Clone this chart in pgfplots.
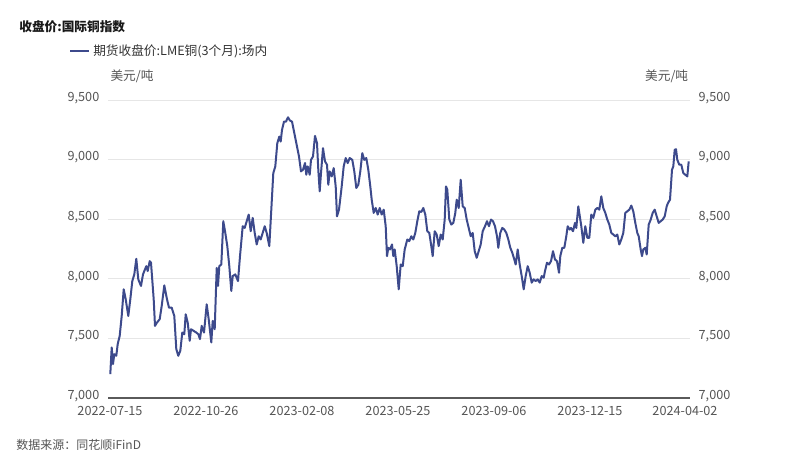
\documentclass[border=0pt]{standalone}
\usepackage{fontspec}
\setmainfont{Noto Sans CJK SC}
\usepackage{pgfplots}
\pgfplotsset{compat=1.18}
\definecolor{lineblue}{HTML}{3D4A8C}
\definecolor{gridgray}{HTML}{E6E6E6}
\definecolor{axisgray}{HTML}{5A5A5A}
\definecolor{txtgray}{HTML}{555555}
\begin{document}
\begin{tikzpicture}
\path[use as bounding box,fill=white] (0,0) rectangle (600pt,354pt);
\pgfplotsset{
  baseopts/.style={
    at={(81pt,55.5pt)}, anchor=south west,
    width=436.5pt, height=223.5pt, scale only axis,
    xmin=108, xmax=690, ymin=7000, ymax=9500,
    ytick={7000,7500,8000,8500,9000,9500},
    major tick length=0pt,
    tick label style={font=\fontsize{9.5}{11}\selectfont, text=txtgray},
    /pgf/number format/.cd, 1000 sep={,}, assume math mode=true,
  }
}
\begin{axis}[baseopts,
  axis x line*=bottom, axis y line*=left,
  x axis line style={draw=axisgray, line width=0.8pt},
  y axis line style={draw=none},
  ymajorgrids, grid style={draw=gridgray, line width=0.6pt},
  xtick={110,206,302,398,494,590,685},
  xticklabels={2022-07-15,2022-10-26,2023-02-08,2023-05-25,2023-09-06,2023-12-15,2024-04-02},
  xticklabel style={yshift=-2.5pt},
  yticklabel style={xshift=-3pt, yshift=1.5pt},
]
\addplot[lineblue, line width=1.5pt, line join=round] coordinates {
(110.3,7201)(111.7,7424)(113,7285)(114.3,7368)(116.3,7354)(117.7,7452)(119.7,7521)(121.7,7688)(123.7,7912)(125.7,7828)(128.3,7688)(130.3,7828)(132.3,7981)(134.3,8037)(136.3,8168)(138.3,7995)(141,7940)(143,8037)(144.3,8065)(146.3,8106)(147.7,8065)(149.7,8148)(151,8135)(153.7,7828)(155,7605)(157,7633)(159.7,7661)(161.7,7772)(164.3,7945)(167,7828)(169,7758)(171.7,7758)(174.3,7688)(176.3,7410)(178.3,7354)(180.3,7396)(182.3,7549)(184.3,7535)(185.7,7702)(187.7,7633)(189.7,7480)(191,7577)(193.7,7563)(196.3,7549)(198.3,7535)
(200,7494)(201.7,7605)(204,7549)(206.7,7786)(208.7,7661)(211.3,7466)(212.7,7647)(214.7,7577)(216.7,8092)(218,7940)(219.3,8106)(221.3,8120)(223.3,8483)(225.3,8385)(227.3,8274)(229.3,8106)(231.3,7898)(232.7,8023)(235.3,8037)(238,7981)(240,8190)(242.7,8441)(244.7,8427)(246.7,8483)(248.7,8539)(250.7,8399)(252.7,8511)(254.7,8385)(256.7,8288)(258.7,8357)(260.7,8330)(262.7,8385)(264.7,8441)(266.7,8385)(269.3,8274)(271.3,8580)(273.3,8887)(275.3,8943)(277.3,9138)(279.3,9193)(280.7,9151)(282,9249)(284,9319)(286,9319)(288,9355)(290,9327)(292,9319)(294,9235)
(297,9110)(299,9026)(301,8901)(303,8915)(305,8971)(306.3,8873)(307.7,8943)(309.7,8873)(311,8998)(313,9026)(315,9199)(317,9138)(318.3,8915)(319.7,8734)(321,8887)(323,9096)(325,8985)(327,8957)(328.3,8789)(329.7,8901)(331.7,8859)(333.7,8929)(335.7,8775)(337,8524)(339,8580)(341.7,8775)(343.7,8943)(345.7,9013)(347.7,8971)(349.7,9013)(352.3,8998)(354.3,8901)(356.3,8762)(358.3,8789)(360.3,8901)(362.3,9054)(364.3,8998)(366.3,9013)(368.3,8915)(370.3,8775)(371.7,8664)(373.7,8553)(375.7,8594)(377.7,8539)(379.7,8594)(381.7,8539)(383.7,8580)(385.7,8441)(387,8190)(388.3,8260)
(390,8246)(392,8288)(393.3,8190)(394.7,8246)(396.7,8106)(398.7,7912)(400.7,8120)(402.7,8106)(404.7,8246)(407.3,8330)(409.3,8316)(411.3,8357)(413.3,8330)(415.3,8385)(417.3,8483)(419.3,8566)(421.3,8561)(423.3,8594)(425.3,8539)(427.3,8399)(429.3,8385)(431.3,8274)(432.7,8190)(434.7,8399)(436.7,8371)(438.7,8274)(440.7,8371)(442.7,8330)(444.7,8497)(446,8775)(447.3,8748)(449.3,8497)(451.3,8455)(453.3,8469)(455.3,8553)(456.7,8664)(458.7,8594)(460.7,8831)(462.7,8608)(464.7,8594)(466.7,8497)(468.7,8427)(470.7,8357)(472.7,8385)(474.7,8232)(476.7,8176)(478.7,8232)(480.7,8288)(482.7,8399)
(485,8441)(487,8483)(489,8441)(491,8497)(493,8483)(495,8441)(497,8357)(498.3,8260)(500.3,8385)(502.3,8427)(504.3,8413)(506.3,8385)(508.3,8330)(510.3,8260)(512.3,8218)(514.3,8162)(515.7,8120)(517.7,8246)(519.7,8120)(521.7,8023)(523.7,7912)(525.7,8023)(527.7,8106)(529.7,8051)(531.7,7968)(533.7,7995)(535.7,7981)(537.7,7995)(539.7,7968)(541.7,8023)(543.7,8009)(545,8065)(547,8135)(549,8120)(551,8148)(553,8232)(555,8162)(557,8148)(559,8051)(560.3,8190)(562.3,8260)(564.3,8260)(566.3,8357)(567.7,8441)(569.7,8413)(571,8427)(573,8399)(575,8469)(576.3,8427)(578.3,8608)
(581.3,8441)(583.3,8302)(585.3,8441)(587.3,8344)(589.3,8344)(591.3,8539)(593.3,8511)(595.3,8580)(597.3,8594)(599.3,8580)(601.3,8692)(603.3,8594)(605.3,8553)(607.3,8497)(609.3,8455)(611.3,8385)(613.3,8371)(615.3,8357)(617.3,8371)(619.3,8288)(621.3,8330)(623.3,8385)(625.3,8553)(627.3,8566)(629.3,8580)(631.3,8614)(633.3,8566)(635.3,8469)(637.3,8385)(638.7,8357)(640.7,8246)(642,8190)(643.3,8246)(645.3,8260)(646.7,8204)(648.7,8455)(650.7,8497)(652.7,8553)(654.7,8580)(656.7,8524)(658.7,8469)(660.7,8483)(662.7,8497)(664.7,8524)(666.7,8608)(668,8636)(670,8664)(672,8915)(673.3,8943)(674.7,9082)(676,9087)(677.3,8998)(679.3,8957)(681.3,8957)(683.3,8887)(685.3,8873)(687.3,8859)(688.7,8985)
};
\end{axis}
\begin{axis}[baseopts,
  axis x line=none, axis y line*=right,
  y axis line style={draw=none},
  yticklabel style={xshift=3pt, yshift=1.5pt},
]
\addplot[draw=none] coordinates {(110,7000)(690,9500)};
\end{axis}
\node[anchor=west, font=\fontsize{9.5}{11}\selectfont\bfseries, text=black!90] at (11pt,333.75pt) {收盘价:国际铜指数};
\draw[lineblue, line width=1.5pt] (52.5pt,315.75pt) -- (66.75pt,315.75pt);
\node[anchor=west, inner sep=0pt, font=\fontsize{9.5}{11}\selectfont, text=black!80] at (69.75pt,315.75pt) {期货收盘价:LME铜(3个月):场内};
\node[font=\fontsize{9.5}{11}\selectfont, text=txtgray] at (99pt,297pt) {美元/吨};
\node[font=\fontsize{9.5}{11}\selectfont, text=txtgray] at (500pt,297pt) {美元/吨};
\node[anchor=west, inner sep=0pt, font=\fontsize{9}{11}\selectfont, text=txtgray] at (12pt,20.25pt) {数据来源：同花顺iFinD};
\end{tikzpicture}
\end{document}
